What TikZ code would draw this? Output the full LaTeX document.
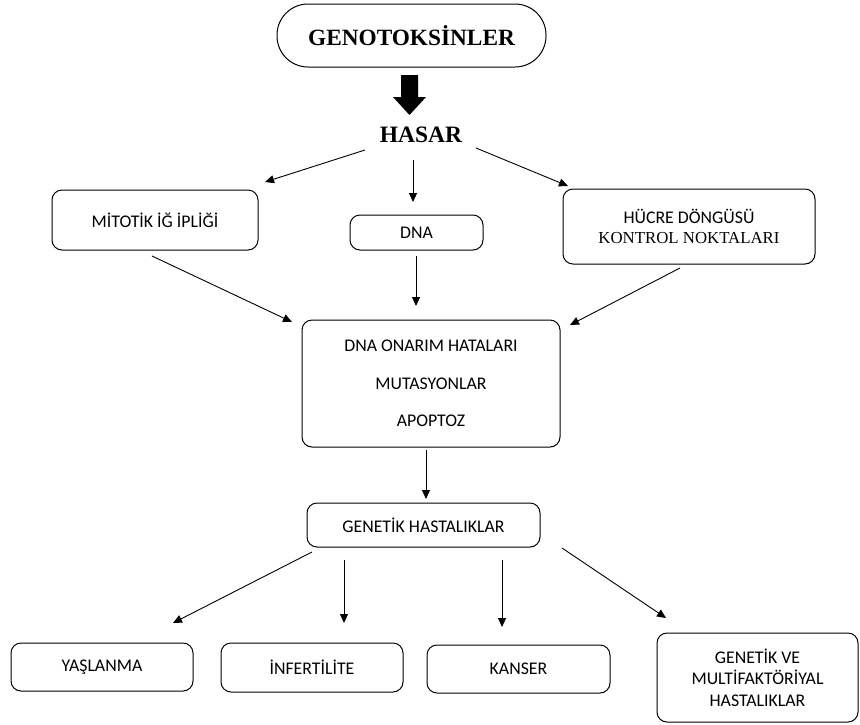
\documentclass[tikz,border=0pt]{standalone}
\usepackage{fontspec}
\setmainfont{Carlito}
\newfontfamily\tms{Liberation Serif}
\usetikzlibrary{arrows.meta}
\tikzset{
  box/.style={draw, line width=1pt, rounded corners=10pt, inner sep=0pt, align=center, font=\fontsize{17.8}{21.7}\selectfont},
  conn/.style={line width=0.9pt, -{Triangle[length=9pt,width=8pt]}},
  title/.style={font=\tms\bfseries\fontsize{23.5}{26}\selectfont, inner sep=0pt}
}
\begin{document}
\begin{tikzpicture}[x=1pt,y=-1pt]
\useasboundingbox (0,0) rectangle (860,724);
% top
\node[box, rounded corners=31pt, minimum width=269pt, minimum height=63pt, font=\tms\bfseries\fontsize{23.3}{26}\selectfont] (geno) at (411.5,35.5) {GENOTOKS\.{I}NLER};
\fill (401,75) -- (418,75) -- (418,97) -- (426,97) -- (409.5,115) -- (393,97) -- (401,97) -- cycle;
\node[title] (hasar) at (421,135) {HASAR};
% level 2
\node[box, minimum width=206pt, minimum height=60pt] (mit) at (155,220) {M\.{I}TOT\.{I}K \.{I}Ğ \.{I}PL\.{I}Ğ\.{I}};
\node[box, minimum width=133pt, minimum height=35pt] (dna) at (416.5,232.5) {DNA};
\node[box, minimum width=252pt, minimum height=75pt] (hucre) at (689,226.5) {HÜCRE DÖNGÜSÜ\\[-1pt]{\tms\fontsize{16.8}{20}\selectfont KONTROL NOKTALARI}};
% center
\node[box, minimum width=258pt, minimum height=127pt] (center) at (431,383.5) {DNA ONARIM HATALARI\\[16pt]MUTASYONLAR\\[16pt]APOPTOZ};
\node[box, minimum width=233pt, minimum height=44pt] (gen) at (423.5,525) {GENET\.{I}K HASTALIKLAR};
% bottom
\node[box, minimum width=182pt, minimum height=48pt] (yas) at (102,667) {YAŞLANMA};
\node[box, minimum width=182pt, minimum height=49pt] (inf) at (312,667.5) {\.{I}NFERT\.{I}L\.{I}TE};
\node[box, minimum width=183pt, minimum height=48pt] (kan) at (518.5,669) {KANSER};
\node[box, minimum width=201pt, minimum height=89pt] (gv) at (757.5,677.5) {GENET\.{I}K VE\\MULT\.{I}FAKTÖR\.{I}YAL\\HASTALIKLAR};
% connector endpoints
\coordinate (h1) at (365,150); \coordinate (m1) at (265,182);
\coordinate (h2) at (413,160); \coordinate (d1) at (413,202);
\coordinate (h3) at (476,148); \coordinate (c1) at (568,186);
\coordinate (m2) at (152,256); \coordinate (ce1) at (292,322);
\coordinate (d2) at (416,256); \coordinate (ce2) at (416,306);
\coordinate (hc2) at (680,268); \coordinate (ce3) at (570,325);
\coordinate (ce4) at (426,450); \coordinate (g1) at (426,499);
\coordinate (g2) at (312,552); \coordinate (y1) at (173,623);
\coordinate (g3) at (344,560); \coordinate (i1) at (344,623);
\coordinate (g4) at (502,560); \coordinate (k1) at (502,627);
\coordinate (g5) at (562,548); \coordinate (v1) at (666,618);
\draw[conn] (h1) -- (m1);
\draw[conn] (h2) -- (d1);
\draw[conn] (h3) -- (c1);
\draw[conn] (m2) -- (ce1);
\draw[conn] (d2) -- (ce2);
\draw[conn] (hc2) -- (ce3);
\draw[conn] (ce4) -- (g1);
\draw[conn] (g2) -- (y1);
\draw[conn] (g3) -- (i1);
\draw[conn] (g4) -- (k1);
\draw[conn] (g5) -- (v1);
\end{tikzpicture}
\end{document}
